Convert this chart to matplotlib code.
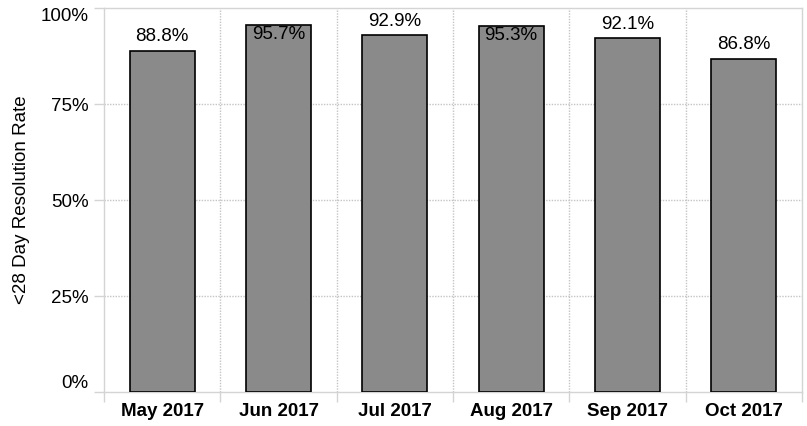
import numpy as np
import matplotlib.pyplot as plt

# Monthly <28 day resolution rate
months = ['May 2017', 'Jun 2017', 'Jul 2017', 'Aug 2017', 'Sep 2017', 'Oct 2017']
rates = [88.8, 95.7, 92.9, 95.3, 92.1, 86.8]
y_ticks = [0, 25, 50, 75, 100]
y_tick_labels = ['0%', '25%', '50%', '75%', '100%']

plt.rcParams['font.family'] = ['Liberation Sans', 'DejaVu Sans']
FS = 13.5

fig = plt.figure(figsize=(8.07, 4.26), dpi=100)
ax = fig.add_axes([0.1289, 0.0798, 0.8649, 0.9014])

x = np.arange(len(months))
ax.bar(x, rates, width=0.56, color='#898a89', edgecolor='black', linewidth=1.2, zorder=3)

# labels sit above the bar, or just inside its top when there's no room
for xi, v in zip(x, rates):
    if v > 94:
        ax.annotate(f'{v:.1f}%', (xi, v), xytext=(0, -1), textcoords='offset points',
                    ha='center', va='top', fontsize=FS, color='black', zorder=4)
    else:
        ax.annotate(f'{v:.1f}%', (xi, v), xytext=(0, 4), textcoords='offset points',
                    ha='center', va='bottom', fontsize=FS, color='black', zorder=4)

ax.set_xlim(-0.5, len(months) - 0.5)
ax.set_ylim(0, 100)

# category labels at centres, divider ticks at boundaries
ax.set_xticks(x)
ax.set_xticklabels(months, fontsize=FS, fontweight='bold')
ax.set_xticks(np.arange(-0.5, len(months)), minor=True)
ax.tick_params(axis='x', which='major', length=0, pad=8)
ax.tick_params(axis='x', which='minor', length=7, color='#d4d4d4', width=1)

ax.set_yticks(y_ticks)
ax.set_yticklabels(y_tick_labels, fontsize=FS)
ax.tick_params(axis='y', length=7, color='#d4d4d4', width=1, pad=4)
labels = ax.get_yticklabels()
labels[0].set_verticalalignment('bottom')
labels[-1].set_verticalalignment('top')

ax.set_ylabel('<28 Day Resolution Rate', fontsize=FS, labelpad=8)

# dotted grid lines
for yv in [25, 50, 75]:
    ax.axhline(yv, color='#c4c4c4', linestyle=(0, (1, 1)), linewidth=1, zorder=1)
for xv in np.arange(0.5, len(months) - 1):
    ax.axvline(xv, color='#c4c4c4', linestyle=(0, (1, 1)), linewidth=1, zorder=1)

for side in ['top', 'right', 'left', 'bottom']:
    ax.spines[side].set_color('#d4d4d4')
    ax.spines[side].set_linewidth(1)

fig.savefig('out.png', dpi=100)
